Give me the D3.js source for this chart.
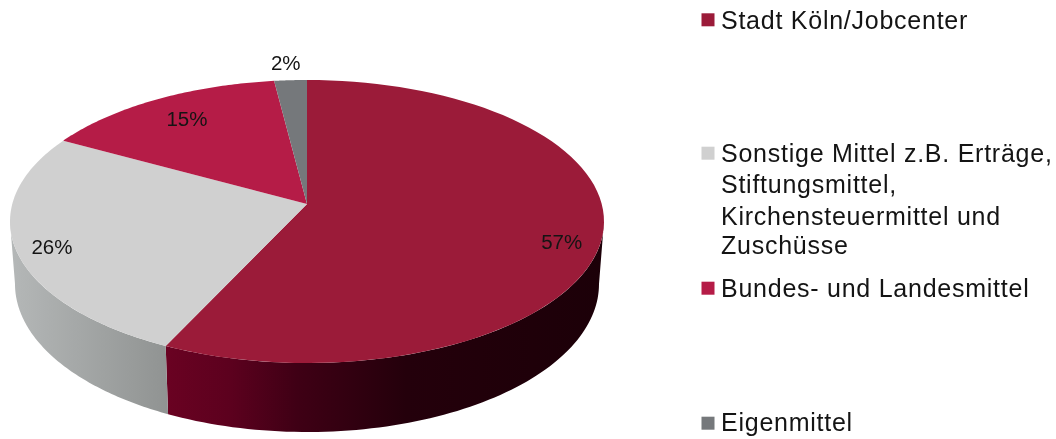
<!DOCTYPE html>
<html>
<head>
<meta charset="utf-8">
<script src="https://cdn.jsdelivr.net/npm/d3@7"></script>
<style>
  html, body { margin: 0; padding: 0; background: #fff; }
  svg { display: block; filter: blur(0.45px); }
  text { font-family: "Liberation Sans", Arial, sans-serif; fill: #141414; }
</style>
</head>
<body>
<div id="chart"></div>
<script>
// data
var categories = ['Stadt Köln/Jobcenter', 'Sonstige Mittel z.B. Erträge, Stiftungsmittel, Kirchensteuermittel und Zuschüsse', 'Bundes- und Landesmittel', 'Eigenmittel'];
var values = [57, 26, 15, 2];
var legendLines = [
  ['Stadt Köln/Jobcenter'],
  ['Sonstige Mittel z.B. Erträge,', 'Stiftungsmittel,', 'Kirchensteuermittel und', 'Zuschüsse'],
  ['Bundes- und Landesmittel'],
  ['Eigenmittel']
];

// styles and layout
var colors = ['#9b1b39', '#d0d0d0', '#b51c47', '#75787b'];
var sideStops = [
  [[0, '#6a0222'], [0.15, '#5c011e'], [0.3, '#3f0015'], [0.55, '#24000b'], [1, '#1c0008']],
  [[0, '#b4b7b7'], [1, '#909392']]
];
var sideRange = [[165, 604], [12, 168]];
var width = 1056, height = 439;
var topFace = { cx: 307, cy: 221.5, rx: 297, ry: 141.5 };
var bottomFace = { cx: 307, cy: 284, rx: 292, ry: 148 };
var tilt = (204 - topFace.cy) / topFace.ry; // apex sits above the ellipse centre
var labelRadius = 0.85;
var labelNudge = [[4.5, 12], [-8.8, 5], [9.5, 5], [-7, -34]];
var legendBaselines = [[28.7], [161.7, 193.2, 224.5, 253.5], [296.7], [430.7]];
var swatchTops = [13.3, 146.7, 281.7, 416.7];

var svg = d3.select('#chart').append('svg')
  .attr('width', width)
  .attr('height', height)
  .attr('viewBox', '0 0 ' + width + ' ' + height);

var pie = d3.pie().sort(null).value(function(d) { return d; });
var arcs = pie(values);

function scales(face) {
  return {
    x: d3.scaleLinear().domain([-1, 1]).range([face.cx - face.rx, face.cx + face.rx]),
    y: d3.scaleLinear().domain([-1, 1]).range([face.cy - face.ry, face.cy + face.ry])
  };
}
var topScale = scales(topFace);
var bottomScale = scales(bottomFace);

// circle to tilted ellipse, perspective keeps the apex off centre
function project(angle, r) {
  var x = r * Math.sin(angle), y = -r * Math.cos(angle);
  var w = 1 + tilt * y;
  return [x * Math.sqrt(1 - tilt * tilt) / w, (y + tilt) / w];
}

function sample(a0, a1) {
  return d3.range(0, 81).map(function(i) { return a0 + (a1 - a0) * i / 80; });
}

var lineTop = d3.line()
  .x(function(d) { return topScale.x(d[0]); })
  .y(function(d) { return topScale.y(d[1]); });
var lineBottom = d3.line()
  .x(function(d) { return bottomScale.x(d[0]); })
  .y(function(d) { return bottomScale.y(d[1]); });

// gradients for the side wall
var defs = svg.append('defs');
sideStops.forEach(function(stops, i) {
  var g = defs.append('linearGradient')
    .attr('id', 'side' + i)
    .attr('gradientUnits', 'userSpaceOnUse')
    .attr('x1', sideRange[i][0]).attr('x2', sideRange[i][1])
    .attr('y1', 0).attr('y2', 0);
  stops.forEach(function(s) {
    g.append('stop').attr('offset', s[0]).attr('stop-color', s[1]);
  });
});

// side wall, only the front part of the rim shows
var frontStart = Math.acos(tilt);
var frontEnd = 2 * Math.PI - frontStart;
arcs.forEach(function(d, i) {
  var a0 = Math.max(d.startAngle, frontStart);
  var a1 = Math.min(d.endAngle, frontEnd);
  if (a1 <= a0) return;
  var rim = sample(a0, a1).map(function(a) { return project(a, 1); });
  var upper = lineTop(rim);
  var lower = lineBottom(rim.slice().reverse());
  svg.append('path')
    .attr('d', upper + 'L' + lower.slice(1) + 'Z')
    .attr('fill', 'url(#side' + i + ')');
});

// top face
svg.selectAll('path.slice')
  .data(arcs)
  .enter()
  .append('path')
  .attr('class', 'slice')
  .attr('fill', function(d, i) { return colors[i]; })
  .attr('d', function(d) {
    var rim = sample(d.startAngle, d.endAngle).map(function(a) { return project(a, 1); });
    return lineTop([project(0, 0)].concat(rim)) + 'Z';
  });

// percent labels
svg.selectAll('text.pct')
  .data(arcs)
  .enter()
  .append('text')
  .attr('class', 'pct')
  .attr('text-anchor', 'middle')
  .attr('font-size', 20.5)
  .attr('x', function(d, i) {
    return topScale.x(project((d.startAngle + d.endAngle) / 2, labelRadius)[0]) + labelNudge[i][0];
  })
  .attr('y', function(d, i) {
    return topScale.y(project((d.startAngle + d.endAngle) / 2, labelRadius)[1]) + labelNudge[i][1] + 7;
  })
  .text(function(d) { return d.value + '%'; });

// legend
var legend = svg.selectAll('g.legend')
  .data(categories)
  .enter()
  .append('g')
  .attr('class', 'legend');

legend.append('rect')
  .attr('x', 701.5)
  .attr('y', function(d, i) { return swatchTops[i]; })
  .attr('width', 13)
  .attr('height', 13)
  .attr('fill', function(d, i) { return colors[i]; });

legend.each(function(d, i) {
  d3.select(this).selectAll('text')
    .data(legendLines[i])
    .enter()
    .append('text')
    .attr('x', 721)
    .attr('y', function(t, j) { return legendBaselines[i][j]; })
    .attr('font-size', 25)
    .attr('letter-spacing', 0.75)
    .text(function(t) { return t; });
});
</script>
</body>
</html>
